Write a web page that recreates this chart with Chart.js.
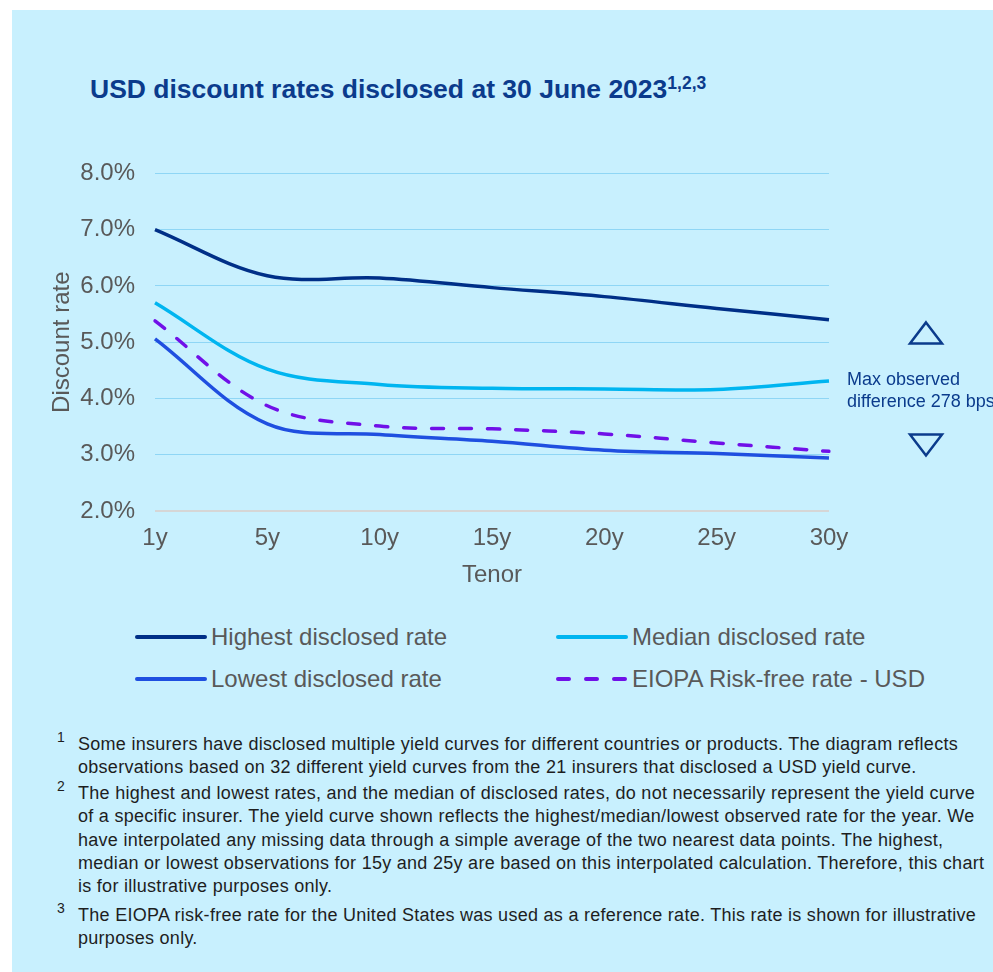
<!DOCTYPE html>
<html>
<head>
<meta charset="utf-8">
<script src="https://cdn.jsdelivr.net/npm/chart.js@4.4.0/dist/chart.umd.min.js"></script>
<style>
  html, body { margin: 0; padding: 0; background: #fff; }
  body { width: 993px; height: 972px; position: relative; overflow: hidden; font-family: "Liberation Sans", Arial, sans-serif; }
  #panel { position: absolute; left: 12px; top: 10px; width: 981px; height: 962px; background: #c8f0fe; }
  #title { position: absolute; left: 90px; top: 74px; font-size: 26.5px; line-height: 30px; font-weight: bold; color: #0b3b8c; white-space: nowrap; }
  #title sup { font-size: 17.5px; vertical-align: 9px; line-height: 0; }
  #chartBox { position: absolute; left: 0; top: 139px; width: 993px; height: 451px; }
  .leg { position: absolute; height: 30px; white-space: nowrap; font-size: 24px; line-height: 30px; color: #595959; }
  .leg svg { position: absolute; left: 0; top: 0; }
  .leg span { position: absolute; left: 76px; top: 0; }
  .fn { position: absolute; left: 78px; font-size: 18px; letter-spacing: 0.28px; line-height: 23.3px; color: #1e1e1e; white-space: nowrap; }
  .fnum { position: absolute; left: 57px; font-size: 14px; color: #1e1e1e; }
</style>
</head>
<body>
<div id="panel"></div>
<div id="title">USD discount rates disclosed at 30 June 2023<sup>1,2,3</sup></div>
<div id="chartBox"><canvas id="lineChart" width="993" height="451"></canvas></div>

<div class="leg" style="left:135px; top:622px;"><svg width="72" height="30"><line x1="2" y1="15" x2="70" y2="15" stroke="#002f87" stroke-width="4" stroke-linecap="round"/></svg><span>Highest disclosed rate</span></div>
<div class="leg" style="left:556px; top:622px;"><svg width="72" height="30"><line x1="2" y1="15" x2="70" y2="15" stroke="#00b5f0" stroke-width="4" stroke-linecap="round"/></svg><span>Median disclosed rate</span></div>
<div class="leg" style="left:135px; top:664px;"><svg width="72" height="30"><line x1="2" y1="15" x2="70" y2="15" stroke="#1f4fe0" stroke-width="4" stroke-linecap="round"/></svg><span>Lowest disclosed rate</span></div>
<div class="leg" style="left:556px; top:664px;"><svg width="72" height="30"><line x1="2" y1="15" x2="70" y2="15" stroke="#7010e8" stroke-width="4" stroke-linecap="round" stroke-dasharray="11 17"/></svg><span>EIOPA Risk-free rate - USD</span></div>

<div class="fnum" style="top:729px;">1</div>
<div class="fn" style="top:733px;">Some insurers have disclosed multiple yield curves for different countries or products. The diagram reflects<br>observations based on 32 different yield curves from the 21 insurers that disclosed a USD yield curve.</div>
<div class="fnum" style="top:778px;">2</div>
<div class="fn" style="top:782px;">The highest and lowest rates, and the median of disclosed rates, do not necessarily represent the yield curve<br>of a specific insurer. The yield curve shown reflects the highest/median/lowest observed rate for the year. We<br>have interpolated any missing data through a simple average of the two nearest data points. The highest,<br>median or lowest observations for 15y and 25y are based on this interpolated calculation. Therefore, this chart<br>is for illustrative purposes only.</div>
<div class="fnum" style="top:900px;">3</div>
<div class="fn" style="top:904px;">The EIOPA risk-free rate for the United States was used as a reference rate. This rate is shown for illustrative<br>purposes only.</div>

<script>
// tenors on the x axis
var tenors = ['1y', '5y', '10y', '15y', '20y', '25y', '30y'];
// rates in %
var highestRate = [7.00, 6.18, 6.14, 5.97, 5.81, 5.60, 5.40];
var medianRate  = [5.70, 4.52, 4.25, 4.18, 4.17, 4.16, 4.31];
var lowestRate  = [5.06, 3.55, 3.36, 3.24, 3.08, 3.02, 2.94];
var eiopaRate   = [5.38, 3.87, 3.51, 3.46, 3.37, 3.21, 3.06];
var diffText = ['Max observed', 'difference 278 bps'];

var tickColor = '#595959';
var fontFam = '"Liberation Sans", Arial, sans-serif';

// text + triangles to the right of the plot
var diffNote = {
  id: 'diffNote',
  afterDraw: function (chart) {
    var ctx = chart.ctx;
    var a = chart.chartArea;
    var cx = a.right + 97;
    ctx.save();
    ctx.fillStyle = '#0b3b8c';
    ctx.font = '18px ' + fontFam;
    ctx.textBaseline = 'middle';
    ctx.fillText(diffText[0], a.right + 18, a.top + 207);
    ctx.fillText(diffText[1], a.right + 18, a.top + 229);
    ctx.strokeStyle = '#0b3b8c';
    ctx.lineWidth = 2.5;
    ctx.lineJoin = 'miter';
    ctx.beginPath();
    ctx.moveTo(cx, a.top + 149);
    ctx.lineTo(cx + 16, a.top + 170);
    ctx.lineTo(cx - 16, a.top + 170);
    ctx.closePath();
    ctx.stroke();
    ctx.beginPath();
    ctx.moveTo(cx - 16, a.top + 261);
    ctx.lineTo(cx + 16, a.top + 261);
    ctx.lineTo(cx, a.top + 282);
    ctx.closePath();
    ctx.stroke();
    ctx.restore();
  }
};

function makeSet(label, values, color, dash) {
  return {
    label: label,
    data: values,
    borderColor: color,
    backgroundColor: color,
    borderWidth: 3.5,
    borderDash: dash || [],
    borderCapStyle: dash ? 'round' : 'butt',
    pointRadius: 0,
    tension: 0.35,
    fill: false
  };
}

var ctx = document.getElementById('lineChart').getContext('2d');
var config = {
  type: 'line',
  data: {
    labels: tenors,
    datasets: [
      makeSet('Highest disclosed rate', highestRate, '#002f87'),
      makeSet('Median disclosed rate', medianRate, '#00b5f0'),
      makeSet('Lowest disclosed rate', lowestRate, '#1f4fe0'),
      makeSet('EIOPA Risk-free rate - USD', eiopaRate, '#7010e8', [12, 16])
    ]
  },
  options: {
    responsive: false,
    animation: false,
    layout: { padding: { left: 0, right: 164, top: 22, bottom: 0 } },
    plugins: {
      legend: { display: false },
      tooltip: { enabled: false }
    },
    scales: {
      x: {
        offset: false,
        grid: { display: false, drawTicks: false },
        border: { display: false },
        ticks: { color: tickColor, font: { family: fontFam, size: 24 }, padding: 13, maxRotation: 0 },
        title: { display: true, text: 'Tenor', color: tickColor, font: { family: fontFam, size: 24 }, padding: { top: 0, bottom: 0 } },
        afterFit: function (s) { s.height = 79; }
      },
      y: {
        min: 2,
        max: 8,
        grid: {
          drawTicks: false,
          color: function (c) { return c.index === 0 ? '#d6d6d6' : '#8fd6f5'; },
          lineWidth: function (c) { return c.index === 0 ? 2 : 1; }
        },
        border: { display: false },
        ticks: {
          stepSize: 1,
          padding: 20,
          color: tickColor,
          font: { family: fontFam, size: 24 },
          callback: function (v) { return v.toFixed(1) + '%'; }
        },
        title: { display: true, text: 'Discount rate', color: tickColor, font: { family: fontFam, size: 24 }, padding: { top: 48, bottom: 0 } },
        afterFit: function (s) { s.width = 155; }
      }
    }
  },
  plugins: [diffNote]
};
window.myLine = new Chart(ctx, config);
</script>
</body>
</html>
